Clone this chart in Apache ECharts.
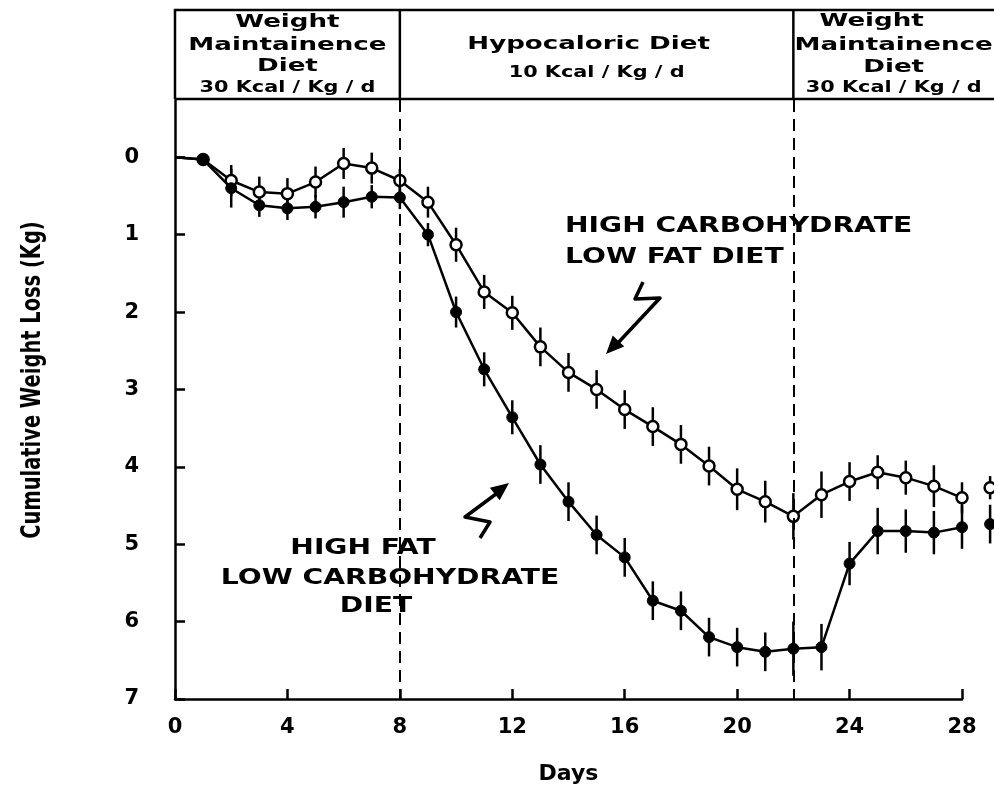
<!DOCTYPE html>
<html>
<head>
<meta charset="utf-8">
<script src="https://cdn.jsdelivr.net/npm/echarts@6/dist/echarts.min.js"></script>
<style>
html, body { margin: 0; padding: 0; background: #fff; }
#main { width: 994px; height: 790px; }
</style>
</head>
<body>
<div id="main"></div>
<script>
// days of the study
var days = [0, 1, 2, 3, 4, 5, 6, 7, 8, 9, 10, 11, 12, 13, 14, 15, 16, 17, 18, 19, 20, 21, 22, 23, 24, 25, 26, 27, 28, 29];
// open circles: high carbohydrate / low fat diet (kg lost)
var highCarbLowFat = [0, 0.03, 0.30, 0.45, 0.47, 0.32, 0.08, 0.14, 0.30, 0.58, 1.13, 1.74, 2.01, 2.45, 2.78, 3.00,
    3.26, 3.48, 3.71, 3.99, 4.29, 4.45, 4.64, 4.36, 4.19, 4.07, 4.14, 4.25, 4.40, 4.27];
var highCarbErr = [0, 0, 0.2, 0.2, 0.2, 0.2, 0.2, 0.2, 0.15, 0.2, 0.22, 0.22, 0.22, 0.25, 0.25, 0.25,
    0.25, 0.25, 0.25, 0.25, 0.27, 0.27, 0.3, 0.3, 0.25, 0.22, 0.22, 0.27, 0.2, 0.15];
// filled circles: high fat / low carbohydrate diet
var highFatLowCarb = [0, 0.03, 0.40, 0.62, 0.66, 0.64, 0.58, 0.51, 0.52, 1.00, 2.00, 2.74, 3.36, 3.97, 4.45, 4.88,
    5.17, 5.73, 5.86, 6.20, 6.33, 6.39, 6.35, 6.33, 5.25, 4.83, 4.83, 4.85, 4.78, 4.74];
var highFatErr = [0, 0, 0.25, 0.15, 0.15, 0.15, 0.2, 0.15, 0.15, 0.15, 0.2, 0.22, 0.22, 0.25, 0.25, 0.25,
    0.25, 0.25, 0.25, 0.25, 0.25, 0.25, 0.35, 0.3, 0.28, 0.3, 0.28, 0.28, 0.28, 0.25];
// tick values
var xTicks = [0, 4, 8, 12, 16, 20, 24, 28];
var yTicks = [0, 1, 2, 3, 4, 5, 6, 7];
// diet phase boundaries (days)
var phaseBounds = [8, 22];

var dom = document.getElementById('main');
var myChart = echarts.init(dom);

function lineData(vals) {
    return days.map(function (d, i) {
        if (i === 0) return { value: [d, vals[i]], symbol: 'none' };
        return [d, vals[i]];
    });
}

function errorBars(vals, errs) {
    return {
        type: 'custom',
        clip: false,
        silent: true,
        z: 3,
        data: days.map(function (d, i) { return [d, vals[i] - errs[i], vals[i] + errs[i]]; }),
        encode: { x: 0, y: [1, 2] },
        renderItem: function (params, api) {
            var a = api.coord([api.value(0), api.value(1)]);
            var b = api.coord([api.value(0), api.value(2)]);
            return {
                type: 'line',
                shape: { x1: a[0], y1: a[1], x2: b[0], y2: b[1] },
                style: { stroke: '#000', lineWidth: 2.5 }
            };
        }
    };
}

var option = {
    animation: false,
    backgroundColor: '#fff',
    grid: { left: 175, right: 32, top: 100, bottom: 91 },
    xAxis: {
        type: 'value',
        min: 0,
        max: 28,
        interval: 4,
        name: 'Days',
        nameLocation: 'middle',
        nameGap: 64,
        nameTextStyle: { fontFamily: 'DejaVu Sans', fontWeight: 'bold', fontSize: 22, color: '#000' },
        axisLine: { onZero: false, lineStyle: { color: '#000', width: 2.5 } },
        axisTick: { show: true, inside: true, length: 10, customValues: xTicks, lineStyle: { color: '#000', width: 2.5 } },
        axisLabel: { margin: 18, customValues: xTicks, fontFamily: 'DejaVu Sans', fontWeight: 'bold', fontSize: 21, color: '#000' },
        splitLine: { show: false }
    },
    yAxis: {
        type: 'value',
        inverse: true,
        min: -0.74,
        max: 7,
        axisLine: { show: true, onZero: false, lineStyle: { color: '#000', width: 2.5 } },
        axisTick: { show: true, inside: true, length: 10, customValues: yTicks, lineStyle: { color: '#000', width: 2.5 } },
        axisLabel: {
            margin: 36, customValues: yTicks,
            fontFamily: 'DejaVu Sans', fontWeight: 'bold', fontSize: 21, color: '#000'
        },
        splitLine: { show: false }
    },
    series: [
        errorBars(highFatLowCarb, highFatErr),
        errorBars(highCarbLowFat, highCarbErr),
        {
            name: 'High carbohydrate low fat diet',
            type: 'line',
            clip: false,
            z: 4,
            data: lineData(highCarbLowFat),
            symbol: 'circle',
            symbolSize: 11,
            lineStyle: { color: '#000', width: 2.5 },
            itemStyle: { color: '#fff', borderColor: '#000', borderWidth: 2.5 },
            markLine: {
                silent: true,
                symbol: 'none',
                label: { show: false },
                lineStyle: { color: '#000', width: 2, type: [12, 7] },
                data: phaseBounds.map(function (d) { return { xAxis: d }; })
            }
        },
        {
            name: 'High fat low carbohydrate diet',
            type: 'line',
            clip: false,
            z: 5,
            data: lineData(highFatLowCarb),
            symbol: 'circle',
            symbolSize: 11,
            lineStyle: { color: '#000', width: 2.5 },
            itemStyle: { color: '#000', borderColor: '#000', borderWidth: 1 }
        }
    ]
};
myChart.setOption(option);

// header boxes with the diet phases
var p0 = myChart.convertToPixel({ xAxisIndex: 0 }, 0);
var p8 = myChart.convertToPixel({ xAxisIndex: 0 }, phaseBounds[0]);
var p22 = myChart.convertToPixel({ xAxisIndex: 0 }, phaseBounds[1]);
var hdrTop = 10, hdrBot = 99, hdrRight = 994;

function txt(s, x, y, size, sx, align) {
    return {
        type: 'text', x: x, y: y, scaleX: sx, silent: true,
        style: {
            text: s, x: 0, y: 0, align: align || 'center', verticalAlign: 'middle',
            font: 'bold ' + size + 'px "DejaVu Sans"', fill: '#000'
        }
    };
}
function poly(pts) {
    return { type: 'polyline', silent: true, shape: { points: pts }, style: { stroke: '#000', lineWidth: 3.5, fill: null, lineJoin: 'round' } };
}
function head(tip, from) {
    var ang = Math.atan2(tip[1] - from[1], tip[0] - from[0]);
    var L = 18, W = 8;
    var bx = tip[0] - L * Math.cos(ang), by = tip[1] - L * Math.sin(ang);
    var nx = -Math.sin(ang) * W, ny = Math.cos(ang) * W;
    return { type: 'polygon', silent: true, shape: { points: [tip, [bx + nx, by + ny], [bx - nx, by - ny]] }, style: { fill: '#000' } };
}

var c1 = (p0 + p8) / 2, c2 = (p8 + p22) / 2, c3 = (p22 + hdrRight) / 2;
var hs = 18, hx = 1.45;

myChart.setOption({
    graphic: [
        { type: 'polyline', silent: true, shape: { points: [[p0, hdrBot], [p0, hdrTop], [hdrRight + 5, hdrTop]] }, style: { stroke: '#000', lineWidth: 2.5, fill: null } },
        { type: 'line', silent: true, shape: { x1: p0, y1: hdrBot, x2: hdrRight + 5, y2: hdrBot }, style: { stroke: '#000', lineWidth: 2.5 } },
        { type: 'line', silent: true, shape: { x1: p8, y1: hdrTop, x2: p8, y2: hdrBot }, style: { stroke: '#000', lineWidth: 2.5 } },
        { type: 'line', silent: true, shape: { x1: p22, y1: hdrTop, x2: p22, y2: hdrBot }, style: { stroke: '#000', lineWidth: 2.5 } },
        txt('Weight', c1, 22, hs, hx),
        txt('Maintainence', c1, 45, hs, hx),
        txt('Diet', c1, 66, hs, hx),
        txt('30 Kcal / Kg / d', c1, 88, 16, 1.3),
        txt('Hypocaloric Diet', c2 - 8, 44, hs, hx),
        txt('10 Kcal / Kg / d', c2, 73, 16, 1.3),
        txt('Weight', c3 - 22, 21, hs, hx),
        txt('Maintainence', c3, 45, hs, hx),
        txt('Diet', c3, 67, hs, hx),
        txt('30 Kcal / Kg / d', c3, 88, 16, 1.3),
        // curve labels
        txt('HIGH CARBOHYDRATE', 565, 226, 22, 1.28, 'left'),
        txt('LOW FAT DIET', 565, 257, 22, 1.28, 'left'),
        txt('HIGH FAT', 363, 548, 22, 1.28),
        txt('LOW CARBOHYDRATE', 390, 578, 22, 1.28),
        txt('DIET', 376, 606, 22, 1.28),
        // squiggle arrows
        poly([[643, 282], [635, 299], [660, 298], [616, 345]]),
        head([606, 354], [660, 298]),
        poly([[480, 538], [490, 522], [465, 517], [500, 491]]),
        head([509, 483], [465, 517]),
        // y axis title
        {
            type: 'text', x: 33, y: 380, rotation: Math.PI / 2, scaleX: 0.72, silent: true,
            style: { text: 'Cumulative Weight Loss (Kg)', x: 0, y: 0, align: 'center', verticalAlign: 'middle', font: 'bold 27px "DejaVu Sans"', fill: '#000' }
        }
    ]
});
</script>
</body>
</html>
